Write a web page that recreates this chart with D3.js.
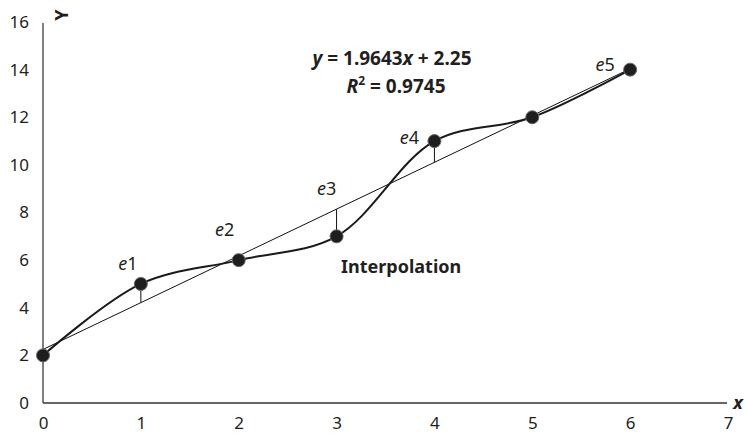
<!DOCTYPE html>
<html>
<head>
<meta charset="utf-8">
<script src="https://cdn.jsdelivr.net/npm/d3@7"></script>
<style>
  body { margin: 0; background: #fff; }
  svg text { font-family: "Noto Sans", "Open Sans", sans-serif; fill: #231f20; }
</style>
</head>
<body>
<div id="chart"></div>
<script>
const xValues = [0, 1, 2, 3, 4, 5, 6];
const yValues = [2, 5, 6, 7, 11, 12, 14];
const slope = 1.9643;
const intercept = 2.25;
const rSquared = 0.9745;
const xTicks = [0, 1, 2, 3, 4, 5, 6, 7];
const yTicks = [0, 2, 4, 6, 8, 10, 12, 14, 16];
const residualNames = ["e1", "e2", "e3", "e4", "e5"];
const residualX = [1, 2, 3, 4, 6];

// label offsets in px from the residual anchor
const labelOffsets = [[-13, -14], [-14, -20], [-10, -14], [-25, 3], [-25, 2]];

const W = 745, H = 436;

const svg = d3.select("#chart").append("svg")
  .attr("width", W)
  .attr("height", H);

const x = d3.scaleLinear().domain([0, 7]).range([43, 728]);
const y = d3.scaleLinear().domain([0, 16]).range([403, 22]);

const points = xValues.map((v, i) => ({ x: v, y: yValues[i] }));
const fit = v => slope * v + intercept;

// axes
const xAxis = svg.append("g")
  .attr("transform", `translate(0,${y(0)})`)
  .call(d3.axisBottom(x).tickValues(xTicks).tickSize(0).tickPadding(14).tickFormat(d3.format("d")));
xAxis.select(".domain").attr("d", `M${x(0)},0H${x(7) - 1}`).attr("stroke", "#333").attr("stroke-width", 1.5);
xAxis.selectAll("text").style("font-size", "17px").attr("fill", "#231f20");

const yAxis = svg.append("g")
  .attr("transform", `translate(${x(0)},0)`)
  .call(d3.axisLeft(y).tickValues(yTicks).tickSize(0).tickPadding(14).tickFormat(d3.format("d")));
yAxis.select(".domain").attr("d", `M0,${y(0)}V23`).attr("stroke", "#555").attr("stroke-width", 1.5);
yAxis.selectAll("text").style("font-size", "17px").attr("fill", "#231f20");

svg.append("text")
  .attr("x", 738).attr("y", y(0) + 6)
  .attr("text-anchor", "middle")
  .style("font-size", "18px").style("font-weight", "bold").style("font-style", "italic")
  .text("x");

svg.append("text")
  .attr("transform", `translate(68,15) rotate(-90)`)
  .attr("text-anchor", "middle")
  .style("font-size", "18px").style("font-weight", "bold")
  .text("Y");

// regression line
svg.append("line")
  .attr("x1", x(0)).attr("y1", y(fit(0)))
  .attr("x2", x(6)).attr("y2", y(fit(6)))
  .attr("stroke", "#111").attr("stroke-width", 1);

// residuals
svg.selectAll(".resid")
  .data(residualX)
  .enter().append("line")
  .attr("class", "resid")
  .attr("x1", d => x(d)).attr("x2", d => x(d))
  .attr("y1", d => y(yValues[xValues.indexOf(d)]))
  .attr("y2", d => y(fit(d)))
  .attr("stroke", "#111").attr("stroke-width", 1);

// smooth interpolation curve
svg.append("path")
  .datum(points)
  .attr("fill", "none")
  .attr("stroke", "#1a1a1a")
  .attr("stroke-width", 2)
  .attr("d", d3.line().x(d => x(d.x)).y(d => y(d.y)).curve(d3.curveCatmullRom.alpha(0.5)));

svg.selectAll(".dot")
  .data(points)
  .enter().append("circle")
  .attr("class", "dot")
  .attr("cx", d => x(d.x)).attr("cy", d => y(d.y))
  .attr("r", 6.5)
  .attr("fill", "#1e1e1e")
  .attr("stroke", "#666").attr("stroke-width", 1);

// residual labels
residualNames.forEach((name, i) => {
  const xv = residualX[i];
  const top = Math.max(yValues[xValues.indexOf(xv)], fit(xv));
  const t = svg.append("text")
    .attr("x", x(xv) + labelOffsets[i][0])
    .attr("y", y(top) + labelOffsets[i][1])
    .attr("text-anchor", "middle")
    .style("font-size", "18px");
  t.append("tspan").style("font-style", "italic").text(name[0]);
  t.append("tspan").text(name.slice(1));
});

// equation
const eq = svg.append("text")
  .attr("x", 392).attr("y", 65)
  .attr("text-anchor", "middle")
  .style("font-size", "19px").style("font-weight", "bold");
eq.append("tspan").style("font-style", "italic").text("y");
eq.append("tspan").text(` = ${slope}`);
eq.append("tspan").style("font-style", "italic").text("x");
eq.append("tspan").text(` + ${intercept}`);

const r2 = svg.append("text")
  .attr("x", 396).attr("y", 93)
  .attr("text-anchor", "middle")
  .style("font-size", "19px").style("font-weight", "bold");
r2.append("tspan").style("font-style", "italic").text("R");
r2.append("tspan").attr("dy", -8).style("font-size", "12px").text("2");
r2.append("tspan").attr("dy", 8).text(` = ${rSquared}`);

svg.append("text")
  .attr("x", 341).attr("y", 273)
  .style("font-size", "18px").style("font-weight", "bold")
  .text("Interpolation");
</script>
</body>
</html>
